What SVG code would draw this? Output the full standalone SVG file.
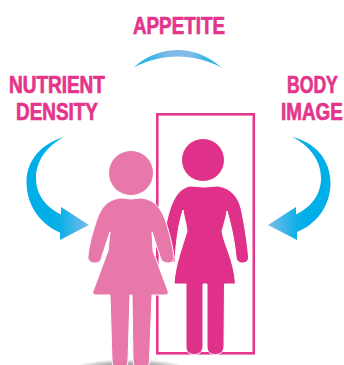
<svg xmlns="http://www.w3.org/2000/svg" width="344" height="365" viewBox="0 0 344 365">
<style>
.t{font-family:"Liberation Sans",Arial,sans-serif;font-weight:700;font-size:23px;fill:#e2358b;stroke:#e2358b;stroke-width:.7px}
.halo{stroke:#fff;stroke-width:1;stroke-linejoin:round}
</style>
<defs>
<linearGradient id="gl" gradientUnits="userSpaceOnUse" x1="50" y1="0" x2="89" y2="0"><stop offset="0" stop-color="#00aee8"/><stop offset="0.3" stop-color="#10b0e8"/><stop offset="1" stop-color="#80bce8"/></linearGradient>
<linearGradient id="gr" gradientUnits="userSpaceOnUse" x1="308" y1="0" x2="268" y2="0"><stop offset="0" stop-color="#00aee8"/><stop offset="0.3" stop-color="#10b0e8"/><stop offset="1" stop-color="#80bce8"/></linearGradient>
<linearGradient id="gt" gradientUnits="userSpaceOnUse" x1="134" y1="0" x2="221" y2="0"><stop offset="0" stop-color="#00aee8"/><stop offset="0.4" stop-color="#80bce8"/><stop offset="0.65" stop-color="#80bce8"/><stop offset="1" stop-color="#00aee8"/></linearGradient>
<radialGradient id="sh" cx="0.5" cy="0.5" r="0.5"><stop offset="0" stop-color="#8a8a8a"/><stop offset="0.6" stop-color="#b0b0b0"/><stop offset="1" stop-color="#fff"/></radialGradient>
</defs>
<text class="t" transform="translate(133 34) scale(.818 1)">APPETITE</text>
<text class="t" transform="translate(9 93) scale(.825 1)">NUTRIENT</text>
<text class="t" transform="translate(16 120) scale(.823 1)">DENSITY</text>
<text class="t" transform="translate(287 93) scale(.765 1)">BODY</text>
<text class="t" transform="translate(281 120) scale(.82 1)">IMAGE</text>
<g id="connectors">
<path id="arc-top" fill="url(#gt)" d="M134 67.5C148 54 165 50 178 50C192 50 207 55 221.500 67.500C207 60 192 56.500 178 56.500C163 56.500 148 60 134 67.500Z"/>
<path id="arrow-left" fill="url(#gl)" d="M64.500 137C42 143 26.500 160 26.500 182C26.500 207 42 225 60 232.500L60 240L89 225L61 207L61 214.500C46 207 36 195 36 178C36 160 48 145 64.500 137Z"/>
<path id="arrow-right" fill="url(#gr)" d="M292 137C315 142 330.500 160 330.500 183C330.500 207 315 225 297 232L297 240L268 225L296 207L296 214.500C311 207 321 195 321 178C321 160 309 145 292 137Z"/>
</g>
<g id="shadow"><ellipse cx="130" cy="369" rx="58" ry="10" fill="url(#sh)"/></g>
<g id="mirror-frame"><rect x="157.300" y="114.300" width="96.500" height="239" fill="none" stroke="#e4388c" stroke-width="2.600"/></g>
<g id="reflection">
<circle cx="203" cy="160" r="21.500" fill="#e0318a" class="halo"/>
<path fill="#e0318a" class="halo" d="M190 186C196 186 200 187 204 187C208 187 212 186 218 186C231 188 238 197 241 208C244 222 247 240 248.500 256C249 261 246 263 242.500 263C239 263 236.500 261 236 257C235 245 232 228 227 211C226 218 224 224 222 231C224 245 234 260 235.500 284L224.500 284L224 346C224 352 220 354.500 215.500 354.500C210 354.500 207 352 207 346L207 284L203 284L203 346C203 352 199 354.500 194.500 354.500C189 354.500 186 352 186 346L186 284L174 284C175 265 183 245 187 231C186 222 184 217 183 210C179 222 176 240 175 262L166 262L166 225C170 205 176 189 190 186Z"/>
</g>
<g id="person">
<circle cx="131" cy="173" r="22.500" fill="#e878a9" class="halo"/>
<path fill="#e878a9" class="halo" d="M120 198C125 198 128 199 131 199C134 199 137 198 142 198C155 200 161 208 166 222C170 235 173 248 174 257C174.500 261 171 263 168 263C164 263 161.500 261 160.500 258L152 232L153 251L168 291C169 294 167 295 164 295L152 295L149.500 360C149 367 146 372 141 372C136 372 133.500 367 133 360L132 295L130 295L128 360C127.500 367 125 372 120 372C115 372 112.500 367 112 360L110 295L96 295C93 295 92 293 93.500 290L108 251L110 232L102 256C101 261 99 263 95 263C90 263 87.500 260 88 256C89 245 92 235 96 222C101 207 107 200 120 198Z"/>
</g>
</svg>
